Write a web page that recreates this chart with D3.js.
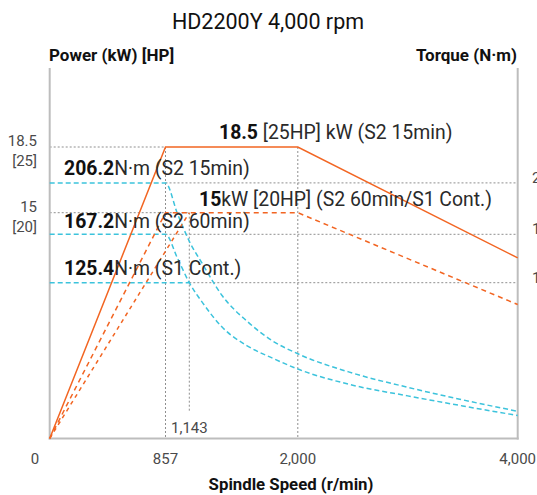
<!DOCTYPE html>
<html><head><meta charset="utf-8">
<script src="https://cdn.jsdelivr.net/npm/d3@7"></script>
<style>
html,body{margin:0;padding:0;background:#fff;}
svg{display:block;font-family:Roboto,"DejaVu Sans",sans-serif;}
</style></head>
<body><svg id="c" width="537" height="495"></svg>
<script>
// ---- data ----
const title = "HD2200Y 4,000 rpm";
const speedTicks = [0, 857, 2000, 4000];
const speedTickLabels = ["0", "857", "2,000", "4,000"];
const speedBreaks = [0, 857, 1143, 2000, 4000];
const powerLevels = [15, 18.5];
const powerLabels = [["15", "[20]"], ["18.5", "[25]"]];
const torqueLevels = [125.4, 167.2, 206.2];
const torqueLabels = ["125.4", "167.2", "206.2"];

const powerS2_15_rpm = [0, 857, 2000, 4000];
const powerS2_15_kw  = [0, 18.5, 18.5, 12.0];
const powerS2_60_rpm = [0, 857, 2000, 4000];
const powerS2_60_kw  = [0, 15, 15, 8.9];
const powerS1_rpm = [0, 1143];
const powerS1_kw  = [0, 15];

const torqueS2_15_rpm = [0, 857, 1000, 1143, 1250, 1400, 1600, 1800, 2000, 2500, 3000, 3500, 4000];
const torqueS2_15_nm  = [206.2, 206.2, 183, 161.2, 141.1, 115.3, 94.3, 78.6, 68.2, 52.6, 41.2, 31.1, 21.9];
const torqueS2_60_rpm = [0, 857, 1000, 1143, 1250, 1400, 1600, 1800, 2000, 2500, 3000, 3500, 4000];
const torqueS2_60_nm  = [167.2, 167.2, 146.7, 125.4, 109, 89.9, 74.6, 64.7, 55.9, 42.9, 34.3, 26.2, 18.5];
const torqueS1_rpm = [0, 1143];
const torqueS1_nm  = [125.4, 125.4];

// ---- layout ----
const ORANGE = "#f26522", CYAN = "#3cc3dc", GRID = "#8f8f8f", AXIS = "#bdbdbd";
const svg = d3.select("#c");
const x = d3.scaleLinear().domain(speedBreaks).range([49.7, 165.5, 189.3, 297.8, 517.7]);
const yP = d3.scaleLinear().domain([0, 15, 18.5]).range([438.5, 212.7, 147]);
const yT = d3.scaleLinear().domain([0, 125.4, 167.2, 206.2]).range([438.5, 282.7, 234.3, 182.9]);
const x0 = x(0), x1 = x(4000), yb = yP(0);

// gridlines (dotted)
const g = svg.append("g").attr("stroke", GRID).attr("stroke-width", 1).attr("stroke-dasharray", "2,2").attr("fill", "none");
g.append("line").attr("x1", x0).attr("x2", x(857)).attr("y1", yP(18.5)).attr("y2", yP(18.5));
g.append("line").attr("x1", x0).attr("x2", x(1143)).attr("y1", yP(15)).attr("y2", yP(15));
g.append("line").attr("x1", x(857)).attr("x2", x1).attr("y1", yT(206.2)).attr("y2", yT(206.2));
g.append("line").attr("x1", x(857)).attr("x2", x1).attr("y1", yT(167.2)).attr("y2", yT(167.2));
g.append("line").attr("x1", x(1143)).attr("x2", x1).attr("y1", yT(125.4)).attr("y2", yT(125.4));
g.append("line").attr("x1", x(857)).attr("x2", x(857)).attr("y1", yP(18.5)).attr("y2", yb);
g.append("line").attr("x1", x(2000)).attr("x2", x(2000)).attr("y1", yP(18.5)).attr("y2", yb);
g.append("line").attr("x1", x(1143)).attr("x2", x(1143)).attr("y1", yP(15)).attr("y2", 412);

// axes frame
const ax = svg.append("g").attr("stroke", AXIS).attr("stroke-width", 2);
ax.append("line").attr("x1", x0).attr("x2", x0).attr("y1", 68).attr("y2", yb + 1);
ax.append("line").attr("x1", x1).attr("x2", x1).attr("y1", 68).attr("y2", yb + 1);
ax.append("line").attr("x1", x0 - 1).attr("x2", x1 + 1).attr("y1", yb).attr("y2", yb);

// series
const zip = (a, b) => a.map((v, i) => [v, b[i]]);
const lp = d3.line().x(d => x(d[0])).y(d => yP(d[1]));
const lt = d3.line().x(d => x(d[0])).y(d => yT(d[1])).curve(d3.curveMonotoneX);

svg.append("path").attr("d", lt(zip(torqueS1_rpm, torqueS1_nm))).attr("fill", "none").attr("stroke", CYAN).attr("stroke-width", 1.5).attr("stroke-dasharray", "5,3");
svg.append("path").attr("d", lt(zip(torqueS2_60_rpm, torqueS2_60_nm))).attr("fill", "none").attr("stroke", CYAN).attr("stroke-width", 1.5).attr("stroke-dasharray", "5,3");
svg.append("path").attr("d", lt(zip(torqueS2_15_rpm, torqueS2_15_nm))).attr("fill", "none").attr("stroke", CYAN).attr("stroke-width", 1.5).attr("stroke-dasharray", "5,3");
svg.append("path").attr("d", lp(zip(powerS1_rpm, powerS1_kw))).attr("fill", "none").attr("stroke", ORANGE).attr("stroke-width", 1.5).attr("stroke-dasharray", "4,4");
svg.append("path").attr("d", lp(zip(powerS2_60_rpm, powerS2_60_kw))).attr("fill", "none").attr("stroke", ORANGE).attr("stroke-width", 1.5).attr("stroke-dasharray", "5,4");
svg.append("path").attr("d", lp(zip(powerS2_15_rpm, powerS2_15_kw))).attr("fill", "none").attr("stroke", ORANGE).attr("stroke-width", 1.5);

// texts
svg.append("text").attr("x", 268).attr("y", 29).attr("text-anchor", "middle").attr("font-size", 21.5).attr("fill", "#111").text(title);
svg.append("text").attr("x", 49).attr("y", 61).attr("font-size", 17).attr("font-weight", 700).attr("fill", "#111").text("Power (kW) [HP]");
svg.append("text").attr("x", 517).attr("y", 61).attr("text-anchor", "end").attr("font-size", 17).attr("font-weight", 700).attr("fill", "#111").text("Torque (N·m)");
svg.append("text").attr("x", 291).attr("y", 490).attr("text-anchor", "middle").attr("font-size", 16.8).attr("font-weight", 700).attr("fill", "#111").text("Spindle Speed (r/min)");

const tk = svg.append("g").attr("font-size", 15).attr("fill", "#4a4a4a");
speedTicks.forEach((v, i) => {
  tk.append("text").attr("x", i === 0 ? 35 : x(v)).attr("y", 464).attr("text-anchor", "middle").text(speedTickLabels[i]);
});
tk.append("text").attr("x", 171).attr("y", 433).text("1,143");
powerLevels.forEach((v, i) => {
  tk.append("text").attr("x", 37).attr("y", yP(v) - 1).attr("text-anchor", "end").text(powerLabels[i][0]);
  tk.append("text").attr("x", 37).attr("y", yP(v) + 19).attr("text-anchor", "end").text(powerLabels[i][1]);
});
torqueLevels.forEach((v, i) => {
  tk.append("text").attr("x", 532).attr("y", yT(v)).text(torqueLabels[i]);
});

function ann(xp, yp, bold, rest) {
  const t = svg.append("text").attr("x", xp).attr("y", yp).attr("font-size", 19.4).attr("fill", "#2a2a2a");
  t.append("tspan").attr("font-weight", 700).attr("fill", "#111").text(bold);
  t.append("tspan").text(rest);
}
ann(219, 139, "18.5", " [25HP] kW (S2 15min)");
ann(64, 175, "206.2", "N·m (S2 15min)");
ann(199, 206, "15", "kW [20HP] (S2 60min/S1 Cont.)");
ann(64, 228, "167.2", "N·m (S2 60min)");
ann(64, 275, "125.4", "N·m (S1 Cont.)");
</script></body></html>
